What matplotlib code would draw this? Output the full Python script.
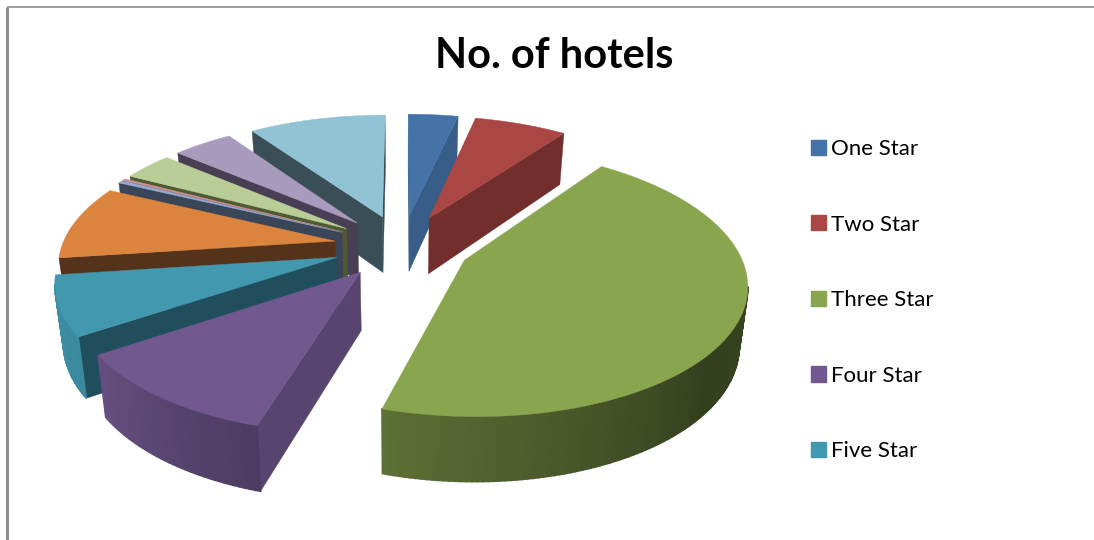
import numpy as np
import matplotlib
matplotlib.use('Agg')
import matplotlib.pyplot as plt
from matplotlib.patches import Patch

# values (percent)
valores = [3.5, 6.5, 44.6, 11.0, 7.3, 9.2, 0.35, 0.25, 3.5, 4.2, 9.6]
legenda = ['One Star', 'Two Star', 'Three Star', 'Four Star', 'Five Star']
cores = ['#4573A7', '#AA4644', '#89A54E', '#71588F', '#4198AF', '#DB843D',
         '#93A9CF', '#D19392', '#B9CD96', '#A99BBD', '#92C3D4']
cores_parede = ['#375D88', '#722E2C', '#5E7033', '#57446F', '#204E5C', '#55331A',
                '#3A4558', '#6A4646', '#4E5A33', '#483F55', '#3A4E58']

# brilho da borda externa conforme o angulo
ang_brilho = [0, 90, 130, 197, 237, 263, 360]
val_brilho = [0.7, 0.42, 0.38, 0.68, 0.9, 0.95, 0.95]

# projecao da pizza 3d
cx, cy = 402, 246
R, Rs, k = 273, 126.5, 0.159
D, k2 = 57, 0.11
encolhe = 0.975
explode = 0.25


def projeta(X, Y):
    w = 1 + k * Y
    return cx + R * X / w, cy - Rs * Y / w


def base(x, y, Y):
    return cx + (x - cx) * encolhe, y + D / (1 + k2 * Y)


def desenha_fatia(ax, th1, th2, cor, cor_parede):
    meio = np.radians((th1 + th2) / 2)
    ox, oy = explode * np.sin(meio), explode * np.cos(meio)
    n = max(int(th2 - th1), 2) + 1
    t = np.radians(np.linspace(th1, th2, n))
    Xs = np.r_[ox, ox + np.sin(t)]
    Ys = np.r_[oy, oy + np.cos(t)]
    xs, ys = projeta(Xs, Ys)
    bx, by = base(xs, ys, Ys)

    m = len(xs)
    for i in range(m):
        j = (i + 1) % m
        # so as faces voltadas para quem olha
        if xs[j] >= xs[i]:
            continue
        if i == 0 or j == 0:
            c = cor_parede
            lw = 0.3
        else:
            graus = np.degrees((t[i - 1] + t[j - 1]) / 2)
            c = np.array(matplotlib.colors.to_rgb(cor)) * np.interp(graus, ang_brilho, val_brilho)
            lw = 1.2
        ax.fill([xs[i], xs[j], bx[j], bx[i]], [ys[i], ys[j], by[j], by[i]],
                color=c, lw=lw)
    ax.fill(xs, ys, color=cor, lw=0.3)


fig = plt.figure(figsize=(10.94, 5.4), dpi=100)
ax = fig.add_axes([0, 0, 1, 1])
ax.set_xlim(0, 1094)
ax.set_ylim(540, 0)
ax.axis('off')

# moldura do grafico
ax.plot([6.5, 6.5], [540, 7], color='#8e8e8e', lw=2.2, solid_capstyle='butt')
ax.plot([6.5, 1094], [7, 7], color='#8e8e8e', lw=1.2, solid_capstyle='butt')

fim = np.cumsum(valores) / np.sum(valores) * 360
ini = np.r_[0, fim[:-1]]
# de tras para frente
ordem = np.argsort(-np.cos(np.radians((ini + fim) / 2)))
for i in ordem:
    desenha_fatia(ax, ini[i], fim[i], cores[i], cores_parede[i])

ax.text(554, 56, 'No. of hotels', fontsize=30, fontweight='bold', family='Lato',
        ha='center', va='center', color='black')

alcas = [Patch(color=cores[i], label=legenda[i]) for i in range(len(legenda))]
fig.legend(handles=alcas, loc='upper left', bbox_to_anchor=(811 / 1094, 1 - 139 / 540),
           frameon=False, prop={'family': 'Lato', 'size': 16},
           labelspacing=2.5, handlelength=0.68, handleheight=0.68, handletextpad=0.22,
           borderpad=0, borderaxespad=0)

fig.savefig('out.png', dpi=100)
